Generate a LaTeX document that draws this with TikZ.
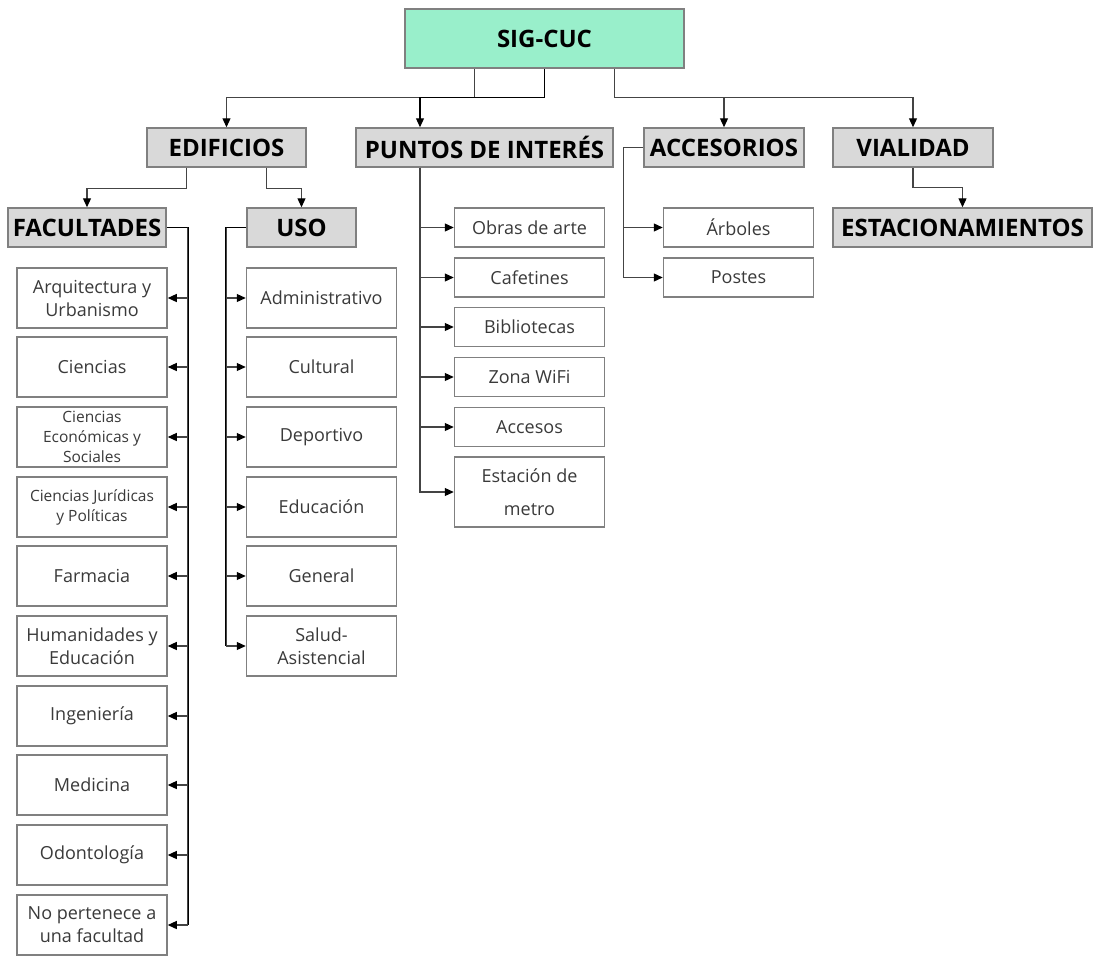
\documentclass[tikz,border=0pt]{standalone}
\usepackage{fontspec}
\setmainfont{Open Sans}
\usetikzlibrary{arrows.meta}
\definecolor{mint}{HTML}{99EFCB}
\definecolor{hgray}{HTML}{D9D9D9}
\definecolor{bord}{HTML}{808080}
\definecolor{txt}{HTML}{3A3A3A}
\definecolor{lin}{HTML}{444444}
\tikzset{
  hdr/.style={draw=bord, fill=hgray, line width=1.5pt, inner sep=0pt, font=\bfseries\fontsize{24}{28}\selectfont, text=black, minimum height=39pt},
  top/.style={hdr, fill=mint, minimum width=279pt, minimum height=59pt},
  leaf/.style={draw=bord, fill=white, line width=1.5pt, inner sep=0pt, font=\fontsize{18}{23}\selectfont, text=txt, align=center, minimum width=150pt},
  small/.style={font=\fontsize{15.5}{20}\selectfont},
  conn/.style={draw=lin, line width=1.2pt},
  trunk/.style={draw=black, line width=1.6pt},
  arr/.style={conn, -{Triangle[length=9pt,width=8pt,color=black,fill=black]}},
}
\begin{document}
\begin{tikzpicture}[x=1pt,y=-1pt]
\useasboundingbox (0,0) rectangle (1094,956);
% top
\node[top] (sig) at (544.5,38.5) {SIG-CUC};
% level 1
\node[hdr, minimum width=159pt] (edif) at (226.5,147.5) {EDIFICIOS};
\node[hdr, minimum width=257pt] (pun) at (484.5,147.5) {PUNTOS DE INTERÉS};
\node[hdr, minimum width=160pt] (acc) at (724,147.5) {ACCESORIOS};
\node[hdr, minimum width=160pt] (vial) at (913,147.5) {VIALIDAD};
% level 2
\node[hdr, minimum width=158pt] (fac) at (87,227.5) {FACULTADES};
\node[hdr, minimum width=109pt] (uso) at (301.5,227.5) {USO};
\node[hdr, minimum width=259pt] (est) at (962.5,227.5) {ESTACIONAMIENTOS};
% facultades leaves
\node[leaf, minimum height=60pt] (f1) at (92,298) {Arquitectura y\\Urbanismo};
\node[leaf, minimum height=60pt] (f2) at (92,367) {Ciencias};
\node[leaf, minimum height=60pt, small] (f3) at (92,437) {Ciencias\\Económicas y\\Sociales};
\node[leaf, minimum height=60pt, small] (f4) at (92,507) {Ciencias Jurídicas\\y Políticas};
\node[leaf, minimum height=60pt] (f5) at (92,576) {Farmacia};
\node[leaf, minimum height=60pt] (f6) at (92,646) {Humanidades y\\Educación};
\node[leaf, minimum height=60pt] (f7) at (92,716) {Ingeniería};
\node[leaf, minimum height=60pt] (f8) at (92,785) {Medicina};
\node[leaf, minimum height=60pt] (f9) at (92,855) {Odontología};
\node[leaf, minimum height=60pt] (f10) at (92,925) {No pertenece a\\una facultad};
% uso leaves
\node[leaf, minimum height=60pt] (u1) at (321.5,298) {Administrativo};
\node[leaf, minimum height=60pt] (u2) at (321.5,367) {Cultural};
\node[leaf, minimum height=60pt] (u3) at (321.5,437) {Deportivo};
\node[leaf, minimum height=60pt] (u4) at (321.5,507) {Educación};
\node[leaf, minimum height=60pt] (u5) at (321.5,576) {General};
\node[leaf, minimum height=60pt] (u6) at (321.5,646) {Salud-\\Asistencial};
% puntos leaves
\node[leaf, minimum height=39pt] (p1) at (529.5,227.5) {Obras de arte};
\node[leaf, minimum height=39pt] (p2) at (529.5,277.5) {Cafetines};
\node[leaf, minimum height=39pt] (p3) at (529.5,327) {Bibliotecas};
\node[leaf, minimum height=39pt] (p4) at (529.5,377) {Zona WiFi};
\node[leaf, minimum height=39pt] (p5) at (529.5,427) {Accesos};
\node[leaf, minimum height=70pt, font=\fontsize{18}{33}\selectfont] (p6) at (529.5,492) {Estación de\\metro};
% accesorios leaves
\node[leaf, minimum height=39pt] (a1) at (738.5,227.5) {Árboles};
\node[leaf, minimum height=39pt] (a2) at (738.5,277.5) {Postes};
% connectors from top
\draw[arr] ([xshift=-70pt]sig.south) -- ++(0,29) -| (edif.north);
\draw[arr, draw=black] (sig.south) -- ++(0,29) -| ([xshift=-64.5pt]pun.north);
\draw[arr] ([xshift=70pt]sig.south) -- ++(0,29) -| (acc.north);
\draw[arr] ([xshift=70pt]sig.south) -- ++(0,29) -| (vial.north);
% edificios
\draw[arr] ([xshift=-40pt]edif.south) -- ++(0,21) -| (fac.north);
\draw[arr] ([xshift=40pt]edif.south) -- ++(0,21) -| (uso.north);
% vialidad
\draw[arr] (vial.south) -- ++(0,20) -| (est.north);
% facultades trunk
\draw[trunk] (fac.east) -- ++(21,0) coordinate (fj) -- (fj |- f10.east);
\foreach \i in {1,...,10} {\draw[arr] (fj) |- (f\i.east);}
% uso trunk
\draw[trunk] (uso.west) -- ++(-20,0) coordinate (uj) -- (uj |- u6.west);
\foreach \i in {1,...,6} {\draw[arr] (uj) |- (u\i.west);}
% puntos trunk
\draw[trunk] ([xshift=-64.5pt]pun.south) coordinate (pj) -- (pj |- p6.west);
\foreach \i in {1,...,6} {\draw[arr] (pj) |- (p\i.west);}
% accesorios trunk
\draw[conn] (acc.west) -- ++(-20,0) coordinate (aj);
\foreach \i in {1,2} {\draw[arr] (aj) |- (a\i.west);}
\end{tikzpicture}
\end{document}
